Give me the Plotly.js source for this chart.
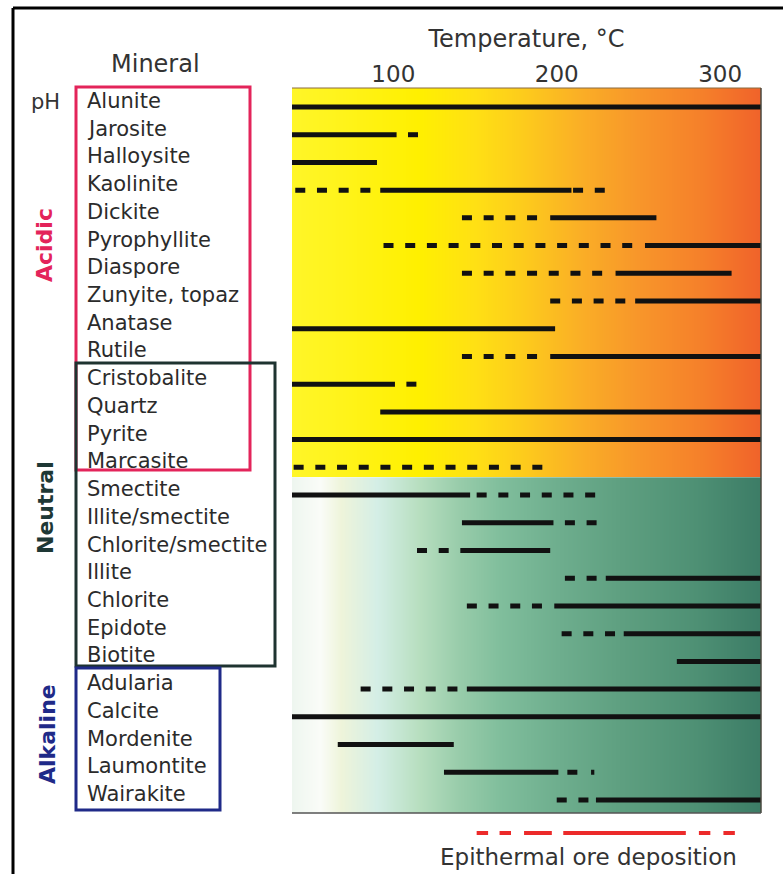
<!DOCTYPE html>
<html><head><meta charset="utf-8">
<script src="https://cdn.plot.ly/plotly-3.0.1.min.js"></script>
<style>html,body{margin:0;padding:0;background:#fff}#chart{width:783px;height:874px}</style>
</head><body><div id="chart"></div>
<script>
// ---------------- data ----------------
const minerals = ['Alunite','Jarosite','Halloysite','Kaolinite','Dickite','Pyrophyllite','Diaspore',
  'Zunyite, topaz','Anatase','Rutile','Cristobalite','Quartz','Pyrite','Marcasite',
  'Smectite','Illite/smectite','Chlorite/smectite','Illite','Chlorite','Epidote','Biotite',
  'Adularia','Calcite','Mordenite','Laumontite','Wairakite'];
// temperature ranges (°C) where each mineral is stable (solid) / possible (dashed)
const solidRanges = [
  [[38,325]], [[38,102]], [[38,90]], [[92,209]], [[196,261]], [[254,325]], [[236,307]],
  [[248,325]], [[38,199]], [[196,325]], [[38,101]], [[92,325]], [[38,325]], [],
  [[38,147]], [[142,198]], [[141,196]], [[230,325]], [[198.5,325]], [[241,325]], [[273.5,325]],
  [[145,325]], [[38,325]], [[66,137]], [[131,201]], [[224,325]]
];
const dashedRanges = [
  [], [[109,115.5]], [], [[40,86],[210,230]], [[142,189]], [[94,248]], [[142,230]],
  [[196,244]], [], [[142,188]], [[108,114.5]], [], [], [[39,192]],
  [[151,226]], [[205,226]], [[114.5,135]], [[205,226]], [[145,192]], [[203,237]], [],
  [[80,140]], [], [], [[206.5,213.5],[221,223]], [[200,221.5]]
];
const groupNames = ['Acidic','Neutral','Alkaline'];
const tempTicks = [100, 200, 300];
const oreSegments = [[151,158],[165,172],[180,197],[204,279],[287,294],[302,309]];
const xRange = [38, 325];

// ---------------- styling ----------------
const topStopT = [38, 70, 115, 150, 180, 215, 250, 290, 325];
const topStopC = ['#FFF628','#FFF31A','#FFF000','#FFE014','#FDCB1C','#FAAE26','#F8962A','#F57F2A','#F0622A'];
const botStopT = [38, 55, 68, 90, 115, 140, 165, 200, 240, 285, 325];
const botStopC = ['#EEF6EF','#FAFCF8','#EEF4DA','#D4EEE6','#B8DFC0','#98CCAA','#80BE9C','#6EAE8E','#5E9F80','#4E9074','#3C7C66'];

const W=783, H=874, ML=292, MR=22, MT=88, MB=30;
const PW = W-ML-MR, PH = H-MT-MB;
const px2x = p => (p-ML)/PW;
const px2y = p => (H-MB-p)/PH;
const FONT = 'DejaVu Sans';

function segs(ranges){
  const xs=[], ys=[];
  ranges.forEach((list,i)=>list.forEach(r=>{xs.push(r[0],r[1],null); ys.push(i,i,null);}));
  return {xs, ys};
}
function gradTrace(stT, stC, yEdges){
  const idx = stT.map((_,i)=>i);
  return {type:'heatmap', x: stT, y: yEdges, z:[idx, idx],
    colorscale: stC.map((c,i)=>[i/(stC.length-1), c]), zmin:0, zmax:stC.length-1,
    zsmooth:'best', showscale:false, hoverinfo:'skip'};
}
const split = 13.36;
const solid = segs(solidRanges), dashed = segs(dashedRanges);
const oreX = [], oreY = [];
oreSegments.forEach(s=>{oreX.push(s[0], s[1], null); oreY.push(0.5,0.5,null);});

const traces = [
  gradTrace(topStopT, topStopC, [-1, 6, split]),
  gradTrace(botStopT, botStopC, [split, 20, 26]),
  {type:'scatter', mode:'lines', x: solid.xs, y: solid.ys, line:{color:'#111', width:5}, hoverinfo:'skip', connectgaps:false},
  {type:'scatter', mode:'lines', x: dashed.xs, y: dashed.ys, line:{color:'#111', width:5, dash:'10px,11.7px'}, hoverinfo:'skip', connectgaps:false},
  {type:'scatter', mode:'lines', x: oreX, y: oreY, xaxis:'x', yaxis:'y2', line:{color:'#EC2A2A', width:4}, hoverinfo:'skip', connectgaps:false}
];

const annotations = [];
minerals.forEach((m,i)=>annotations.push({text:m, xref:'paper', x:px2x(85), xanchor:'left', yref:'y', y:i, yanchor:'middle', yshift:6,
  showarrow:false, font:{family:FONT, size:21, color:'#2b2b2b'}}));
const ann = (text, x, y, size, color, extra) => Object.assign({text, xref:'paper', yref:'paper', x:px2x(x), y:px2y(y),
  xanchor:'center', yanchor:'middle', showarrow:false, font:{family:FONT, size, color}}, extra||{});
annotations.push(ann('Mineral', 155, 64, 24, '#333'));
annotations.push(ann('pH', 45, 102, 21, '#333'));
const grpY = [245, 508, 734], grpC = ['#E3245A','#1E3835','#1F2A88'], grpX = [44, 45, 47];
groupNames.forEach((g,i)=>annotations.push(ann('<b>'+g+'</b>', grpX[i], grpY[i], 22, grpC[i], {textangle:-90})));
annotations.push(ann('Epithermal ore deposition', 588, 857, 23, '#333'));

const box = (x0,y0,x1,y1,c)=>({type:'rect', xref:'paper', yref:'paper', x0:px2x(x0), x1:px2x(x1), y0:px2y(y0), y1:px2y(y1),
  line:{color:c, width:3}, fillcolor:'rgba(0,0,0,0)'});
const line = (x0,y0,x1,y1,c,w)=>({type:'line', xref:'paper', yref:'paper', x0:px2x(x0), x1:px2x(x1), y0:px2y(y0), y1:px2y(y1),
  line:{color:c, width:w}});
const shapes = [
  box(76,87,250,470,'#E3245A'),
  box(76,363,275,666,'#1E3330'),
  box(76,668,220,810,'#1F2A88'),
  line(13,8,783,8,'#000',3),
  line(13,8,13,874,'#000',3),
  line(292,88,761,88,'#8a6a40',1),
  line(761,88,761,813,'#4a4a40',1.5),
  line(292,813,761,813,'#555',1.5)
];

const layout = {
  width:W, height:H, margin:{l:ML, r:MR, t:MT, b:MB, pad:0},
  paper_bgcolor:'#fff', plot_bgcolor:'rgba(0,0,0,0)', showlegend:false,
  xaxis:{range:xRange, side:'top', anchor:'y', tickvals:tempTicks, ticktext:tempTicks.map(String), ticks:'',
    showgrid:false, zeroline:false, showline:false, fixedrange:true,
    tickfont:{family:FONT, size:23, color:'#333'},
    title:{text:'Temperature, °C', font:{family:FONT, size:24, color:'#333'}, standoff:7}},
  yaxis:{range:[25.47, -0.685], domain:[px2y(813), 1], ticks:'', showticklabels:false, showgrid:false, zeroline:false, showline:false, fixedrange:true},
  yaxis2:{domain:[px2y(841), px2y(825)], range:[0,1], visible:false, anchor:'x', fixedrange:true},
  annotations, shapes
};
Plotly.newPlot('chart', traces, layout, {displayModeBar:false, staticPlot:true});
</script></body></html>
